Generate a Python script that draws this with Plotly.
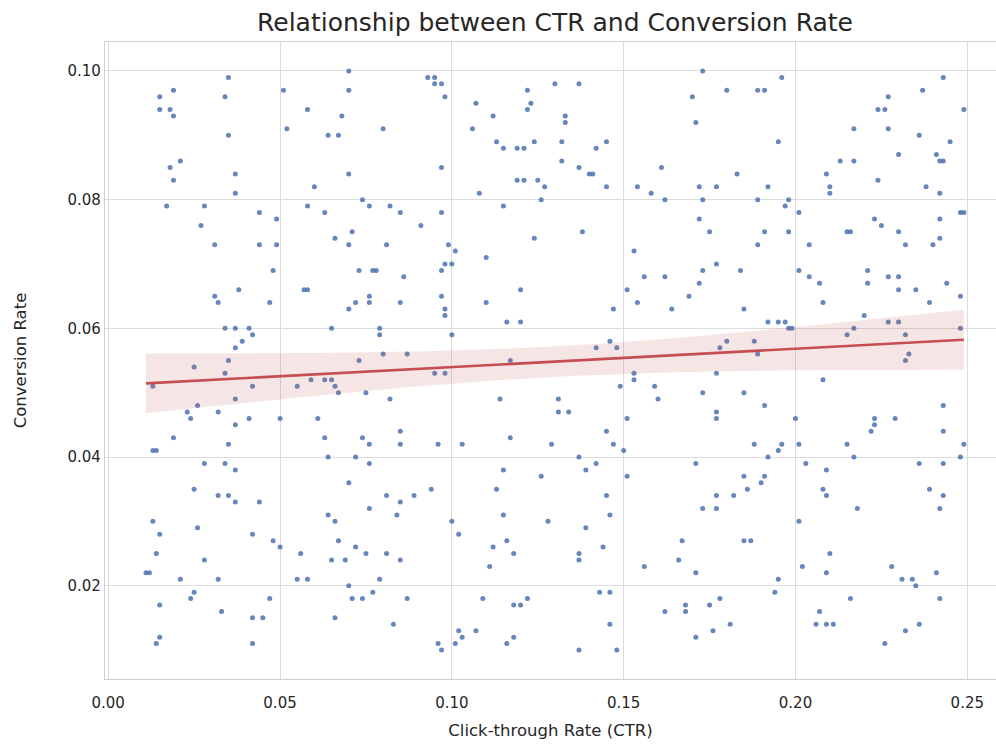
import numpy as np
import plotly.graph_objects as go

# Click-through rate (x) and conversion rate (y)
ctr = [
    0.070,0.035,0.019,0.051,0.070,0.015,0.034,0.015,0.018,0.058,0.019,0.068,0.052,0.080,0.035,0.064,0.067,0.021,0.018,0.037,0.070,0.019,0.060,0.037,0.074,
    0.093,0.095,0.095,0.097,0.098,0.107,0.122,0.130,0.137,0.123,0.122,0.112,0.133,0.133,0.106,0.113,0.115,0.119,0.121,0.124,0.132,0.142,0.145,0.097,0.132,0.137,0.140,0.141,0.161,0.119,0.121,0.125,0.127,0.145,0.154,0.108,0.158,0.126,0.162,
    0.173,0.196,0.180,0.189,0.191,0.170,0.171,0.195,0.183,0.172,0.177,0.192,0.173,0.189,0.198,0.243,0.237,0.227,0.224,0.226,0.249,0.217,0.227,0.236,0.245,0.230,0.241,0.213,0.217,0.242,0.243,0.209,0.224,0.210,0.238,0.210,0.242,
    0.017,0.028,0.058,0.076,0.082,0.044,0.063,0.049,0.027,0.071,0.066,0.031,0.044,0.049,0.070,0.081,0.048,0.073,0.077,0.078,0.038,0.057,0.058,0.031,0.032,0.047,0.076,0.076,0.072,0.070,0.034,0.037,0.041,0.065,0.079,0.079,0.042,0.039,0.037,0.080,0.035,0.073,
    0.085,0.097,0.115,0.091,0.138,0.124,0.099,0.101,0.153,0.110,0.098,0.100,0.097,0.086,0.156,0.162,0.120,0.151,0.097,0.085,0.110,0.154,0.098,0.147,0.164,0.098,0.116,0.120,0.100,0.142,0.146,0.148,0.087,0.117,
    0.197,0.172,0.201,0.223,0.225,0.242,0.248,0.249,0.175,0.191,0.198,0.215,0.216,0.230,0.242,0.189,0.204,0.232,0.240,0.177,0.173,0.184,0.201,0.221,0.204,0.227,0.230,0.172,0.207,0.221,0.244,0.230,0.235,0.169,0.248,0.208,0.239,0.185,0.220,0.192,0.195,0.197,0.227,0.230,0.198,0.199,0.217,0.248,0.215,0.232,0.180,0.188,0.178,0.189,0.233,0.232,
    0.025,0.034,0.013,0.042,0.055,0.059,0.063,0.065,0.066,0.067,0.075,0.082,0.037,0.026,0.023,0.032,0.024,0.037,0.041,0.050,0.061,0.019,0.063,0.074,0.076,0.035,0.013,0.014,0.064,0.072,0.028,0.034,0.076,0.037,0.070,0.025,0.032,0.035,0.081,0.037,0.044,0.076,0.064,0.066,0.013,
    0.095,0.098,0.153,0.153,0.149,0.159,0.114,0.131,0.160,0.131,0.134,0.151,0.085,0.145,0.117,0.085,0.096,0.103,0.129,0.147,0.150,0.137,0.142,0.115,0.139,0.126,0.151,0.094,0.113,0.089,0.145,0.085,0.084,0.115,0.146,0.100,0.128,
    0.177,0.208,0.173,0.185,0.191,0.243,0.177,0.177,0.200,0.223,0.223,0.229,0.222,0.243,0.188,0.196,0.201,0.215,0.249,0.195,0.192,0.217,0.248,0.171,0.203,0.236,0.243,0.209,0.185,0.191,0.190,0.186,0.208,0.239,0.177,0.182,0.209,0.243,0.173,0.177,0.218,0.242,0.201,
    0.026,0.015,0.042,0.048,0.050,0.067,0.072,0.014,0.056,0.075,0.081,0.028,0.065,0.069,0.011,0.012,0.021,0.032,0.055,0.058,0.079,0.070,0.025,0.077,0.024,0.047,0.071,0.074,0.015,0.033,0.042,0.045,0.066,0.083,0.015,0.014,0.042,
    0.139,0.102,0.116,0.112,0.144,0.118,0.137,0.085,0.137,0.111,0.156,0.167,0.166,0.087,0.109,0.122,0.118,0.120,0.143,0.146,0.162,0.146,0.102,0.107,0.103,0.118,0.096,0.101,0.116,0.097,0.137,0.148,
    0.185,0.187,0.210,0.171,0.202,0.209,0.228,0.241,0.195,0.231,0.234,0.235,0.194,0.178,0.216,0.242,0.168,0.168,0.175,0.207,0.181,0.206,0.209,0.211,0.236,0.176,0.232,0.171,0.226,
]
conversion_rate = [
    0.100,0.099,0.097,0.097,0.097,0.096,0.096,0.094,0.094,0.094,0.093,0.093,0.091,0.091,0.090,0.090,0.090,0.086,0.085,0.084,0.084,0.083,0.082,0.081,0.080,
    0.099,0.099,0.098,0.098,0.096,0.095,0.097,0.098,0.098,0.095,0.094,0.093,0.093,0.092,0.091,0.089,0.088,0.088,0.088,0.089,0.089,0.088,0.089,0.085,0.086,0.085,0.084,0.084,0.085,0.083,0.083,0.083,0.082,0.082,0.082,0.081,0.081,0.080,0.080,
    0.100,0.099,0.097,0.097,0.097,0.096,0.092,0.089,0.084,0.082,0.082,0.082,0.080,0.080,0.080,0.099,0.097,0.096,0.094,0.094,0.094,0.091,0.091,0.090,0.089,0.087,0.087,0.086,0.086,0.086,0.086,0.084,0.083,0.082,0.082,0.081,0.081,
    0.079,0.079,0.079,0.079,0.079,0.078,0.078,0.077,0.076,0.075,0.074,0.073,0.073,0.073,0.073,0.073,0.069,0.069,0.069,0.069,0.066,0.066,0.066,0.065,0.064,0.064,0.065,0.064,0.064,0.063,0.060,0.060,0.060,0.060,0.060,0.059,0.059,0.058,0.057,0.056,0.055,0.055,
    0.078,0.078,0.079,0.076,0.075,0.074,0.073,0.072,0.072,0.071,0.070,0.070,0.069,0.068,0.068,0.068,0.066,0.066,0.065,0.064,0.064,0.064,0.063,0.063,0.063,0.062,0.061,0.061,0.059,0.057,0.058,0.057,0.056,0.055,
    0.079,0.077,0.078,0.077,0.076,0.077,0.078,0.078,0.075,0.075,0.075,0.075,0.075,0.075,0.074,0.073,0.073,0.073,0.073,0.070,0.069,0.069,0.069,0.069,0.068,0.068,0.068,0.067,0.067,0.067,0.067,0.066,0.066,0.065,0.065,0.064,0.064,0.063,0.062,0.061,0.061,0.061,0.061,0.061,0.060,0.060,0.060,0.060,0.059,0.059,0.058,0.058,0.057,0.056,0.056,0.055,
    0.054,0.053,0.051,0.051,0.051,0.052,0.052,0.052,0.051,0.050,0.050,0.049,0.049,0.048,0.047,0.047,0.046,0.045,0.046,0.046,0.046,0.043,0.043,0.043,0.042,0.042,0.041,0.041,0.040,0.040,0.039,0.039,0.039,0.038,0.036,0.035,0.034,0.034,0.034,0.033,0.033,0.032,0.031,0.030,0.030,
    0.053,0.053,0.053,0.052,0.051,0.051,0.049,0.049,0.049,0.047,0.047,0.046,0.044,0.044,0.043,0.042,0.042,0.042,0.042,0.042,0.041,0.040,0.039,0.038,0.038,0.037,0.037,0.035,0.035,0.034,0.034,0.033,0.031,0.031,0.031,0.030,0.030,
    0.053,0.052,0.050,0.050,0.048,0.048,0.047,0.046,0.046,0.046,0.045,0.046,0.044,0.044,0.042,0.042,0.042,0.042,0.042,0.041,0.040,0.040,0.040,0.039,0.039,0.039,0.039,0.038,0.037,0.037,0.036,0.035,0.035,0.035,0.034,0.034,0.034,0.034,0.032,0.032,0.032,0.032,0.030,
    0.029,0.028,0.028,0.027,0.026,0.027,0.026,0.025,0.025,0.025,0.025,0.024,0.024,0.024,0.022,0.022,0.021,0.021,0.021,0.021,0.021,0.020,0.019,0.019,0.018,0.018,0.018,0.018,0.017,0.016,0.015,0.015,0.015,0.014,0.012,0.011,0.011,
    0.029,0.028,0.027,0.026,0.026,0.025,0.025,0.024,0.024,0.023,0.023,0.027,0.024,0.018,0.018,0.018,0.017,0.017,0.019,0.019,0.016,0.014,0.013,0.013,0.012,0.012,0.011,0.011,0.011,0.010,0.010,0.010,
    0.027,0.027,0.025,0.022,0.023,0.022,0.023,0.022,0.021,0.021,0.021,0.020,0.019,0.018,0.018,0.018,0.017,0.016,0.017,0.016,0.014,0.014,0.014,0.014,0.014,0.013,0.013,0.012,0.011,
]

x_ticks = [0.00, 0.05, 0.10, 0.15, 0.20, 0.25]
y_ticks = [0.02, 0.04, 0.06, 0.08, 0.10]

x = np.array(ctr)
y = np.array(conversion_rate)
n = len(x)
slope, intercept = np.polyfit(x, y, 1)
xs = np.linspace(x.min(), x.max(), 100)
ys = intercept + slope * xs
resid = y - (intercept + slope * x)
s = np.sqrt(np.sum(resid ** 2) / (n - 2))
sxx = np.sum((x - x.mean()) ** 2)
se = s * np.sqrt(1.0 / n + (xs - x.mean()) ** 2 / sxx)
upper = ys + 1.96 * se
lower = ys - 1.96 * se

RED = "#C44E52"
BLUE = "#4C72B0"
TXT = "#262626"
FONT = "DejaVu Sans"

fig = go.Figure()
fig.add_trace(go.Scatter(x=x, y=y, mode="markers",
                         marker=dict(color=BLUE, size=5, opacity=0.85, line=dict(width=0)),
                         showlegend=False, hoverinfo="skip"))
fig.add_trace(go.Scatter(x=np.concatenate([xs, xs[::-1]]), y=np.concatenate([upper, lower[::-1]]),
                         mode="lines", fill="toself", fillcolor="rgba(196,78,82,0.15)",
                         line=dict(width=0), showlegend=False, hoverinfo="skip"))
fig.add_trace(go.Scatter(x=xs, y=ys, mode="lines", line=dict(color=RED, width=2.6),
                         showlegend=False, hoverinfo="skip"))

fig.update_layout(
    width=996, height=745,
    margin=dict(l=105, r=0, t=42, b=66),
    paper_bgcolor="white", plot_bgcolor="white",
    font=dict(family=FONT, color=TXT, size=15),
    title=dict(text="Relationship between CTR and Conversion Rate", x=555 / 996, xref="container",
               xanchor="center", y=1 - 22 / 745, yref="container", yanchor="middle",
               font=dict(size=25, color=TXT, family=FONT)),
)
fig.update_xaxes(range=[-0.00093, 0.25835], tickvals=x_ticks, ticktext=[f"{v:.2f}" for v in x_ticks],
                 showgrid=True, gridcolor="#dcdcdc", gridwidth=1.2, zeroline=False,
                 showline=True, linecolor="#cfcfcf", linewidth=1.3, mirror=True,
                 ticks="", tickfont=dict(size=15, color=TXT), automargin=False, ticklabelstandoff=10,
                 title=dict(text="Click-through Rate (CTR)", font=dict(size=16.5, color=TXT), standoff=13))
fig.update_yaxes(range=[0.0055, 0.1045], tickvals=y_ticks, ticktext=[f"{v:.2f}" for v in y_ticks],
                 showgrid=True, gridcolor="#dcdcdc", gridwidth=1.2, zeroline=False,
                 showline=True, linecolor="#cfcfcf", linewidth=1.3, mirror=False,
                 ticks="", tickfont=dict(size=15, color=TXT), automargin=False,
                 title=dict(text="Conversion Rate", font=dict(size=16.5, color=TXT), standoff=36))

fig.write_html("out.html", config={"displayModeBar": False},
               post_script="document.body.style.margin='0';document.body.style.overflow='hidden';")
